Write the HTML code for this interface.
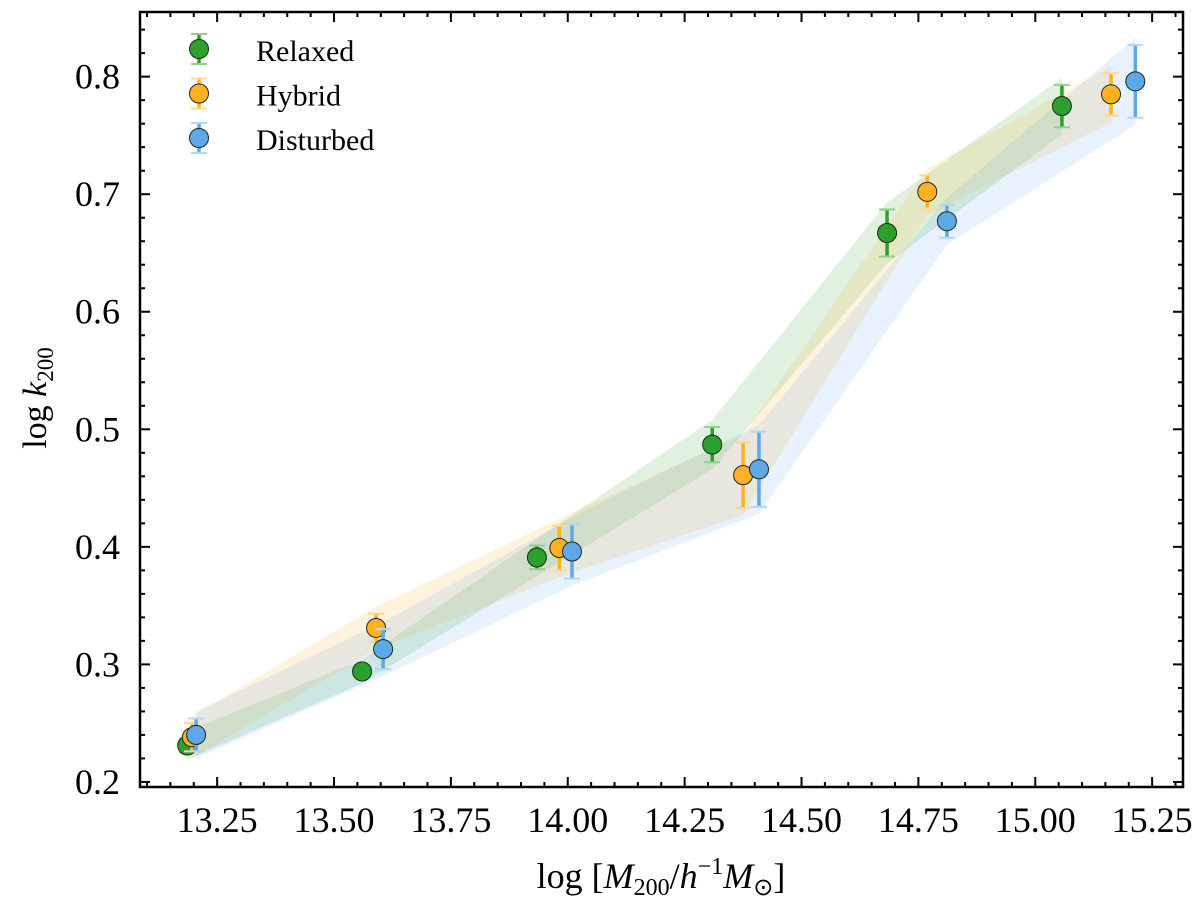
<!DOCTYPE html>
<html><head><meta charset="utf-8"><style>
html,body{margin:0;padding:0;background:#fff}
svg{display:block;font-family:"Liberation Serif",serif}
</style></head><body>
<svg id="chart" width="1200" height="906" viewBox="0 0 1200 906" xmlns="http://www.w3.org/2000/svg">
<g id="bands"></g>
<g id="points"></g>
<g id="axes"></g>
<g id="legend"></g>
<text x="661" y="888" font-size="36" text-anchor="middle">log [<tspan font-style="italic">M</tspan><tspan font-size="24" dy="7">200</tspan><tspan dy="-7">/</tspan><tspan font-style="italic">h</tspan><tspan font-size="24" dy="-14">−1</tspan><tspan font-style="italic" dy="14">M</tspan><tspan font-size="24" dy="7">⊙</tspan><tspan dy="-7">]</tspan></text>
<text transform="translate(46,398) rotate(-90)" font-size="34" text-anchor="middle">log <tspan font-style="italic">k</tspan><tspan font-size="23" dy="7">200</tspan></text>
</svg>
<script>
const relaxedX=[13.186,13.56,13.934,14.309,14.683,15.057];
const relaxedY=[0.231,0.294,0.391,0.487,0.667,0.775];
const relaxedErr=[0.006,0.004,0.01,0.015,0.02,0.018];
const hybridX=[13.196,13.590,13.982,14.375,14.769,15.162];
const hybridY=[0.238,0.331,0.399,0.461,0.702,0.785];
const hybridErr=[0.012,0.012,0.019,0.028,0.014,0.018];
const disturbedX=[13.205,13.605,14.009,14.409,14.811,15.214];
const disturbedY=[0.240,0.313,0.396,0.466,0.677,0.796];
const disturbedErr=[0.014,0.017,0.023,0.032,0.014,0.031];
const xTicks=[13.25,13.5,13.75,14.0,14.25,14.5,14.75,15.0,15.25];
const xTickLabels=["13.25","13.50","13.75","14.00","14.25","14.50","14.75","15.00","15.25"];
const yTicks=[0.2,0.3,0.4,0.5,0.6,0.7,0.8];
const yTickLabels=["0.2","0.3","0.4","0.5","0.6","0.7","0.8"];

const L=140,R=1183,T=12,B=787;
const xMin=13.085,xMax=15.316,yMin=0.1957,yMax=0.855;
const sx=v=>L+(v-xMin)/(xMax-xMin)*(R-L);
const sy=v=>B-(v-yMin)/(yMax-yMin)*(B-T);
const NS="http://www.w3.org/2000/svg";
function mk(tag,attrs,parent){const e=document.createElementNS(NS,tag);for(const k in attrs)e.setAttribute(k,attrs[k]);parent.appendChild(e);return e;}

const series=[
 {name:"relaxed",x:relaxedX,y:relaxedY,e:relaxedErr,c:"#2ca02c",cap:"#8fd08f",lab:"Relaxed"},
 {name:"hybrid",x:hybridX,y:hybridY,e:hybridErr,c:"#ffb023",cap:"#ffd890",lab:"Hybrid"},
 {name:"disturbed",x:disturbedX,y:disturbedY,e:disturbedErr,c:"#5fa8e8",cap:"#b3d6f5",lab:"Disturbed"}
];
const bands=document.getElementById('bands'),pts=document.getElementById('points');
series.forEach(s=>{
  let up=s.x.map((v,i)=>sx(v)+","+sy(s.y[i]+s.e[i]+0.006));
  let dn=s.x.map((v,i)=>sx(v)+","+sy(s.y[i]-s.e[i]-0.006)).reverse();
  const p=mk('polygon',{points:up.concat(dn).join(" "),fill:s.c,'fill-opacity':0.15},bands);
  
  
});
series.forEach(s=>{
  s.x.forEach((v,i)=>{
    const cx=sx(v),cy=sy(s.y[i]),t=sy(s.y[i]+s.e[i]),b=sy(s.y[i]-s.e[i]);
    const g=mk('g',{},pts);
    
    
    mk('line',{x1:cx,x2:cx,y1:t,y2:b,stroke:s.c,'stroke-width':3.5},g);
    mk('line',{x1:cx-8,x2:cx+8,y1:t,y2:t,stroke:s.cap,'stroke-width':2},g);
    mk('line',{x1:cx-8,x2:cx+8,y1:b,y2:b,stroke:s.cap,'stroke-width':2},g);
    mk('circle',{cx:cx,cy:cy,r:9.5,fill:s.c,stroke:"#1a2a1a",'stroke-width':1},g);
  });
});
const ax=document.getElementById('axes');
const fr=mk('rect',{x:L,y:T,width:R-L,height:B-T,fill:"none",stroke:"#000",'stroke-width':2.5},ax);


for(let v=13.10;v<=15.31;v+=0.05){
  const x=sx(v),major=Math.abs(v*4-Math.round(v*4))<1e-6;const len=major?10:5;
  mk('line',{x1:x,x2:x,y1:B,y2:B-len,stroke:"#000",'stroke-width':2},ax);
  mk('line',{x1:x,x2:x,y1:T,y2:T+len,stroke:"#000",'stroke-width':2},ax);
}
for(let v=0.20;v<=0.85;v+=0.02){
  const y=sy(v),major=Math.abs(v*10-Math.round(v*10))<1e-6;const len=major?10:5;
  mk('line',{x1:L,x2:L+len,y1:y,y2:y,stroke:"#000",'stroke-width':2},ax);
  mk('line',{x1:R,x2:R-len,y1:y,y2:y,stroke:"#000",'stroke-width':2},ax);
}
xTicks.forEach((v,i)=>{
  const t=mk('text',{x:sx(v),y:B+45,'font-size':36,'text-anchor':'middle'},ax);
  t.textContent=xTickLabels[i];
  
  
});
yTicks.forEach((v,i)=>{
  const t=mk('text',{x:L-20,y:sy(v)+12,'font-size':36,'text-anchor':'end'},ax);
  t.textContent=yTickLabels[i];
  
  
});
const lg=document.getElementById('legend');
series.forEach((s,i)=>{
  const y=49+i*44.5,x=199;
  const g=mk('g',{},lg);
  
  
  mk('line',{x1:x,x2:x,y1:y-15,y2:y+15,stroke:s.c,'stroke-width':3.5},g);
  mk('line',{x1:x-8,x2:x+8,y1:y-15,y2:y-15,stroke:s.cap,'stroke-width':2},g);
  mk('line',{x1:x-8,x2:x+8,y1:y+15,y2:y+15,stroke:s.cap,'stroke-width':2},g);
  mk('circle',{cx:x,cy:y,r:9.5,fill:s.c,stroke:"#1a2a1a",'stroke-width':1},g);
  const t=mk('text',{x:256,y:y+12,'font-size':30},g);
  t.textContent=s.lab;
});
</script>
</body></html>
